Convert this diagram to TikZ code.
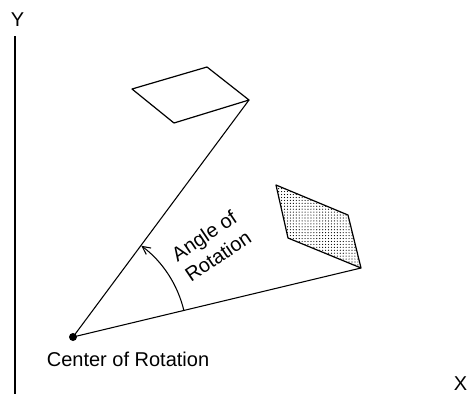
\documentclass[tikz,border=0pt]{standalone}
\usepackage{fontspec}
\setmainfont{Liberation Sans}
\usetikzlibrary{arrows.meta,patterns.meta}
\begin{document}
\begin{tikzpicture}[x=0.75pt,y=-0.75pt,
  ln/.style={line width=0.8pt,black},
  lbl/.style={font=\fontsize{15}{18.5}\selectfont,inner sep=0pt},
  pgram/.style={line width=0.9pt,line join=round}]
\useasboundingbox (0,0) rectangle (472,394);
% axes
\coordinate (ytop) at (15,36);
\coordinate (ybot) at (15,394);
\draw[ln] (ytop) -- (ybot);
\node[lbl] (ylab) at (17.5,19.5) {Y};
\node[lbl,anchor=base] (xlab) at (460.5,390) {X};
% center
\coordinate (c) at (73,337);
\coordinate (pu) at (249,100);
\coordinate (pl) at (361,268);
% upper parallelogram
\draw[pgram] (132,89) -- (207,67) -- (pu) -- (174,123) -- cycle;
% shaded parallelogram
\draw[pgram,pattern={Dots[distance=2.2pt,radius=0.45pt]}] (276,185) -- (348,215) -- (pl) -- (288,238) -- cycle;
% radii
\draw[ln] (c) -- (pu);
\draw[ln] (c) -- (pl);
\fill (c) circle[radius=4];
\node[lbl,anchor=base] (clab) at (128,366) {Center of Rotation};
% angle arc
\draw[ln,-{Straight Barb[length=6pt,width=6pt]}] (c) ++(-13.5:114) arc[start angle=-13.5,end angle=-53.2,radius=114];
\node[lbl,rotate=34,align=center] (alab) at (211,246) {Angle of\\Rotation};
\end{tikzpicture}
\end{document}
